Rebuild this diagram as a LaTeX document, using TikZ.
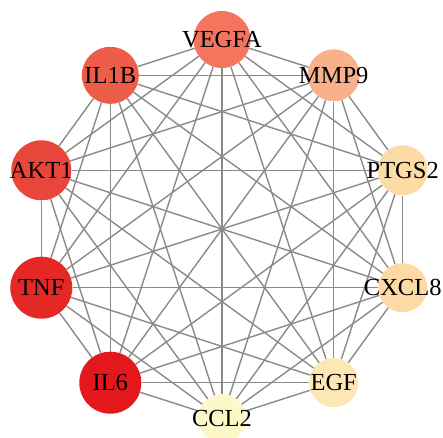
\documentclass[tikz,border=0pt]{standalone}
\usepackage{fontspec}
\setmainfont{Liberation Serif}
\usetikzlibrary{backgrounds}
\definecolor{cIL6}{HTML}{E2181D}
\definecolor{cTNF}{HTML}{E52826}
\definecolor{cAKT}{HTML}{E8463A}
\definecolor{cILB}{HTML}{EE5D4A}
\definecolor{cVEG}{HTML}{F3755D}
\definecolor{cMMP}{HTML}{F9B18B}
\definecolor{cPTG}{HTML}{FCDBA7}
\definecolor{cCXC}{HTML}{FCD9A5}
\definecolor{cEGF}{HTML}{FDE7B5}
\definecolor{cCCL}{HTML}{FEF7C8}
\definecolor{edgegray}{HTML}{8A8A8A}
\tikzset{
  gene/.style={circle, inner sep=0pt, draw=none, font=\fontsize{24.5}{24.5}\selectfont},
  link/.style={draw=edgegray, line width=1.4pt},
}
\newcommand{\glabel}[1]{\makebox[0pt][c]{#1}}
\begin{document}
\begin{tikzpicture}[x=1pt,y=-1pt]
\useasboundingbox (0,0) rectangle (443,437);
% hub genes placed on a circle of radius 190 around (222,229)
\node[gene, fill=cVEG, minimum size=57pt] (VEGFA) at (222,39.5)   {\glabel{VEGFA}};
\node[gene, fill=cMMP, minimum size=52pt] (MMP9)  at (333.7,75.3) {\glabel{MMP9}};
\node[gene, fill=cPTG, minimum size=50pt] (PTGS2) at (402.7,170.3){\glabel{PTGS2}};
\node[gene, fill=cCXC, minimum size=49pt] (CXCL8) at (402.7,287.7){\glabel{CXCL8}};
\node[gene, fill=cEGF, minimum size=49pt] (EGF)   at (333.7,382.7){\glabel{EGF}};
\node[gene, fill=cCCL, minimum size=48pt] (CCL2)  at (222,418.5)  {\glabel{CCL2}};
\node[gene, fill=cIL6, minimum size=62pt] (IL6)   at (110.3,382.7){\glabel{IL6}};
\node[gene, fill=cTNF, minimum size=62pt] (TNF)   at (41.3,287.7) {\glabel{TNF}};
\node[gene, fill=cAKT, minimum size=60pt] (AKT1)  at (41.3,170.3) {\glabel{AKT1}};
\node[gene, fill=cILB, minimum size=57pt] (IL1B)  at (110.3,75.3) {\glabel{IL1B}};
% every pair of genes is linked
\begin{scope}[on background layer]
\foreach \a/\rest in {VEGFA/{MMP9,PTGS2,CXCL8,EGF,CCL2,IL6,TNF,AKT1,IL1B},
                      MMP9/{PTGS2,CXCL8,EGF,CCL2,IL6,TNF,AKT1,IL1B},
                      PTGS2/{CXCL8,EGF,CCL2,IL6,TNF,AKT1,IL1B},
                      CXCL8/{EGF,CCL2,IL6,TNF,AKT1,IL1B},
                      EGF/{CCL2,IL6,TNF,AKT1,IL1B},
                      CCL2/{IL6,TNF,AKT1,IL1B},
                      IL6/{TNF,AKT1,IL1B},
                      TNF/{AKT1,IL1B},
                      AKT1/{IL1B}}{
  \foreach \b in \rest { \draw[link] (\a) -- (\b); }
}
\end{scope}
\end{tikzpicture}
\end{document}
